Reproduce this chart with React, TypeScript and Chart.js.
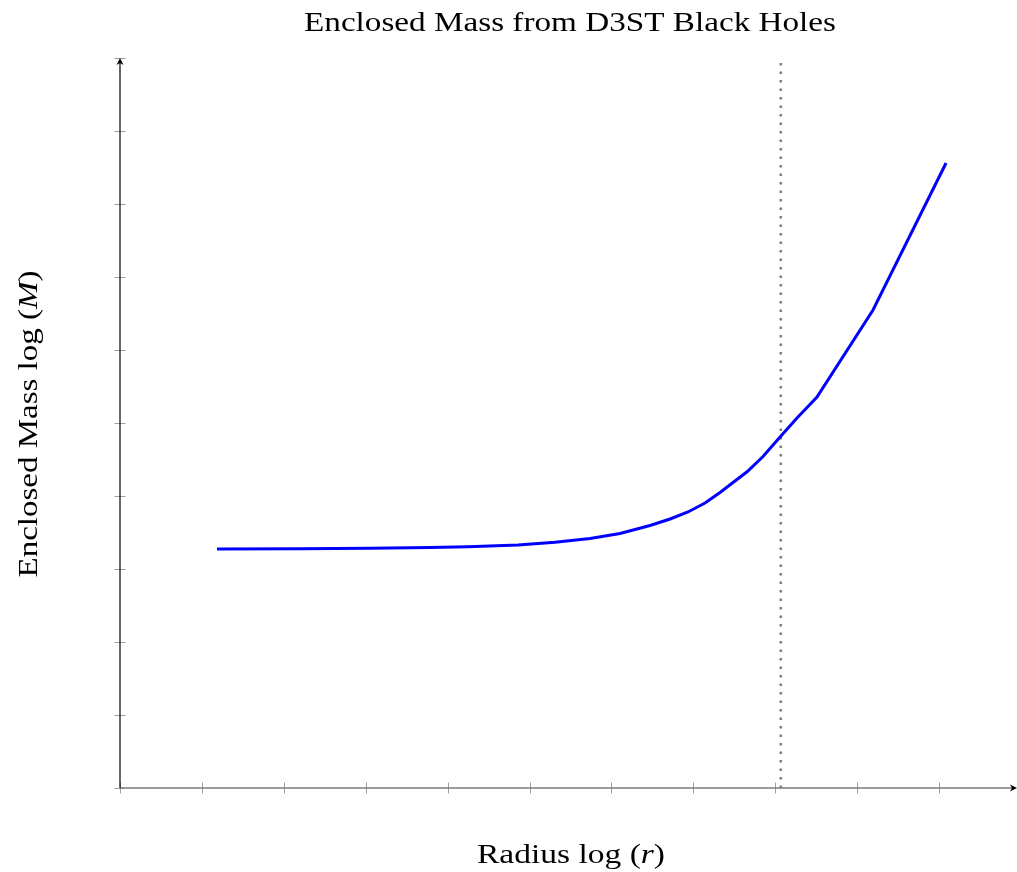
import React, { useEffect, useRef } from "react";
import { Chart, registerables } from "chart.js";

Chart.register(...registerables);

// Radius log(r) sample positions and enclosed mass log(M)
const radiusLog: number[] = [1.184, 2.198, 3.053, 3.785, 4.249, 4.86, 5.311, 5.739, 6.105, 6.471, 6.716, 6.935, 7.143, 7.326, 7.485, 7.656, 7.851, 8.059, 8.266, 8.51, 9.194, 10.086];
const massLog: number[] = [3.274, 3.278, 3.285, 3.295, 3.304, 3.329, 3.366, 3.418, 3.486, 3.596, 3.685, 3.781, 3.904, 4.048, 4.185, 4.332, 4.541, 4.808, 5.068, 5.356, 6.548, 8.562];

// Vertical dotted reference line
const refLineX = 8.068;
const refLineY: number[] = [0, 10];

// Axis ranges and ticks (no tick labels shown)
const xMin = 0;
const xMax = 10.952;
const yMin = 0;
const yMax = 10;
const xTicks: number[] = [0, 1, 2, 3, 4, 5, 6, 7, 8, 9, 10];
const yTicks: number[] = [0, 1, 2, 3, 4, 5, 6, 7, 8, 9, 10];

const titleText = "Enclosed Mass from D3ST Black Holes";
const xTitleParts: [string, boolean][] = [["Radius log ", false], ["(", false], ["r", true], [")", false]];
const yTitleParts: [string, boolean][] = [["Enclosed Mass log ", false], ["(", false], ["M", true], [")", false]];

const FONT_FAMILY = "'Liberation Serif', 'DejaVu Serif', serif";
const FONT_SIZE = 28;

// draws text parts centred at cx, stretched horizontally to the given width
function drawParts(ctx: CanvasRenderingContext2D, parts: [string, boolean][], cx: number, baseline: number, targetWidth: number) {
  const fontFor = (it: boolean) => `${it ? "italic " : ""}${FONT_SIZE}px ${FONT_FAMILY}`;
  let total = 0;
  const widths: number[] = [];
  for (const [t, it] of parts) {
    ctx.font = fontFor(it);
    const w = ctx.measureText(t).width;
    widths.push(w);
    total += w;
  }
  const sx = targetWidth / total;
  ctx.save();
  ctx.translate(cx, baseline);
  ctx.scale(sx, 1);
  let x = -total / 2;
  ctx.textAlign = "left";
  ctx.textBaseline = "alphabetic";
  parts.forEach(([t, it], i) => {
    ctx.font = fontFor(it);
    ctx.fillText(t, x, 0);
    x += widths[i];
  });
  ctx.restore();
}

const axesPlugin = {
  id: "tikzAxes",
  beforeDatasetsDraw(chart: any) {
    const ctx: CanvasRenderingContext2D = chart.ctx;
    const xs = chart.scales.x;
    const ys = chart.scales.y;
    const x0 = xs.getPixelForValue(xMin);
    const x1 = xs.getPixelForValue(xMax);
    const y0 = ys.getPixelForValue(yMin);
    const y1 = ys.getPixelForValue(yMax);
    ctx.save();
    // ticks
    ctx.strokeStyle = "#a0a0a0";
    ctx.lineWidth = 1;
    ctx.beginPath();
    for (const t of xTicks) {
      const px = Math.round(xs.getPixelForValue(t)) + 0.5;
      ctx.moveTo(px, y0 - 5.5);
      ctx.lineTo(px, y0 + 5.5);
    }
    for (const t of yTicks) {
      const py = Math.round(ys.getPixelForValue(t)) + 0.5;
      ctx.moveTo(x0 - 5.5, py);
      ctx.lineTo(x0 + 5.5, py);
    }
    ctx.stroke();
    // x axis
    ctx.strokeStyle = "#7a7a7a";
    ctx.lineWidth = 1.6;
    ctx.beginPath();
    ctx.moveTo(x0, y0);
    ctx.lineTo(x1 - 3, y0);
    ctx.stroke();
    // y axis
    ctx.strokeStyle = "#000";
    ctx.lineWidth = 1.2;
    ctx.beginPath();
    ctx.moveTo(x0, y0);
    ctx.lineTo(x0, y1 + 3);
    ctx.stroke();
    // arrows
    ctx.fillStyle = "#000";
    ctx.beginPath();
    ctx.moveTo(x0, y1);
    ctx.lineTo(x0 - 3.5, y1 + 7);
    ctx.lineTo(x0, y1 + 5);
    ctx.lineTo(x0 + 3.5, y1 + 7);
    ctx.closePath();
    ctx.fill();
    ctx.beginPath();
    ctx.moveTo(x1, y0);
    ctx.lineTo(x1 - 7, y0 - 3.5);
    ctx.lineTo(x1 - 5, y0);
    ctx.lineTo(x1 - 7, y0 + 3.5);
    ctx.closePath();
    ctx.fill();
    ctx.restore();
  },
  afterDraw(chart: any) {
    const ctx: CanvasRenderingContext2D = chart.ctx;
    ctx.save();
    ctx.fillStyle = "#000";
    drawParts(ctx, [[titleText, false]], 570, 31, 532);
    drawParts(ctx, xTitleParts, 571, 863, 188);
    ctx.translate(37, 424);
    ctx.rotate(-Math.PI / 2);
    drawParts(ctx, yTitleParts, 0, 0, 307);
    ctx.restore();
  },
};

export default function App() {
  const ref = useRef<HTMLCanvasElement | null>(null);
  useEffect(() => {
    if (!ref.current) return;
    const chart = new Chart(ref.current, {
      type: "line",
      data: {
        datasets: [
          {
            data: radiusLog.map((x, i) => ({ x, y: massLog[i] })),
            borderColor: "#0000ff",
            borderWidth: 3,
            pointRadius: 0,
            tension: 0,
            fill: false,
            order: 1,
          },
          {
            data: refLineY.map((y) => ({ x: refLineX, y })),
            borderColor: "#808080",
            borderWidth: 2.6,
            borderDash: [2.6, 5.9],
            pointRadius: 0,
            fill: false,
            order: 2,
          },
        ],
      },
      options: {
        responsive: false,
        animation: false,
        devicePixelRatio: 1,
        layout: { padding: { left: 120, right: 0, top: 58, bottom: 84 } },
        plugins: { legend: { display: false }, tooltip: { enabled: false }, title: { display: false } },
        scales: {
          x: { type: "linear", min: xMin, max: xMax, display: false },
          y: { type: "linear", min: yMin, max: yMax, display: false },
        },
      },
      plugins: [axesPlugin],
    });
    return () => chart.destroy();
  }, []);
  return (
    <div style={{ position: "fixed", left: 0, top: 0, width: 1017, height: 872, background: "#fff" }}>
      <canvas ref={ref} width={1017} height={872} style={{ display: "block", width: 1017, height: 872 }} />
    </div>
  );
}
